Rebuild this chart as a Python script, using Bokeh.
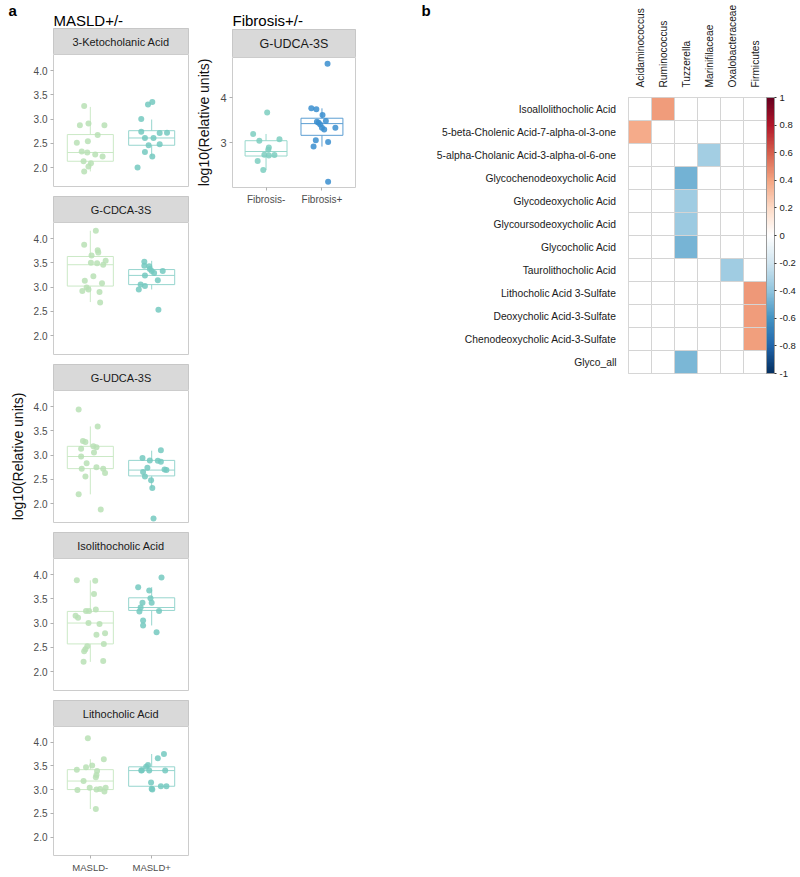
import math
from bokeh.plotting import figure
from bokeh.layouts import row, column
from bokeh.models import (Range1d, FixedTicker, PrintfTickFormatter, LinearColorMapper,
                          ColorBar, NumeralTickFormatter, ColumnDataSource)
from bokeh.embed import file_html
from bokeh.resources import INLINE
from bokeh.core.properties import value

FONT = "Liberation Sans"

# ---------------- data ----------------
masld_groups = ["MASLD-", "MASLD+"]
fib_groups = ["Fibrosis-", "Fibrosis+"]
masld_panels = ["3-Ketocholanic Acid", "G-CDCA-3S", "G-UDCA-3S",
                "Isolithocholic Acid", "Lithocholic Acid"]
masld_yticks = [2.0, 2.5, 3.0, 3.5, 4.0]
fib_panel = "G-UDCA-3S"
fib_yticks = [3, 4]
y_label = "log10(Relative units)"

# box stats: [q1, median, q3, lower whisker, upper whisker]
keto_neg = [3.27, 2.87, 2.91, 2.87, 2.67, 2.51, 2.54, 2.33, 2.31, 2.27, 2.23, 2.13, 2.09, 2.02, 1.92]
keto_neg_jit = [-0.10, -0.17, -0.03, 0.23, 0.12, -0.22, -0.04, -0.14, -0.05, 0.08, 0.20, -0.11, 0.01, -0.03, -0.10]
keto_neg_box = [2.13, 2.31, 2.68, 1.92, 3.25]
keto_pos = [3.30, 3.35, 3.00, 2.74, 2.71, 2.72, 2.61, 2.61, 2.46, 2.48, 2.32, 2.23, 2.00]
keto_pos_jit = [-0.06, 0.01, -0.17, -0.17, 0.13, 0.25, -0.11, 0.03, -0.05, 0.13, -0.11, 0.01, -0.23]
keto_pos_box = [2.46, 2.61, 2.76, 2.23, 2.99]

gcdca_neg = [4.16, 3.87, 3.76, 3.71, 3.65, 3.54, 3.50, 3.49, 3.46, 3.22, 3.13, 3.08, 2.99, 2.95, 2.92, 2.90, 2.68]
gcdca_neg_jit = [0.09, -0.10, 0.12, 0.13, 0.02, 0.25, 0.01, 0.11, 0.21, 0.05, -0.09, 0.19, -0.06, -0.03, -0.13, 0.15, 0.16]
gcdca_neg_box = [3.02, 3.46, 3.63, 2.69, 4.16]
gcdca_pos = [3.52, 3.44, 3.43, 3.37, 3.33, 3.33, 3.29, 3.24, 3.14, 3.05, 3.02, 2.95, 2.53]
gcdca_pos_jit = [-0.12, -0.12, -0.04, -0.03, 0.00, 0.18, 0.04, -0.11, 0.10, -0.18, -0.11, -0.21, 0.11]
gcdca_pos_box = [3.05, 3.24, 3.36, 2.95, 3.54]

gudca_neg = [3.94, 3.59, 3.29, 3.27, 3.18, 3.16, 3.13, 3.05, 2.97, 2.83, 2.75, 2.72, 2.72, 2.63, 2.56, 2.19, 1.88]
gudca_neg_jit = [-0.19, 0.12, -0.12, -0.08, 0.05, 0.10, -0.15, 0.06, -0.15, -0.06, 0.10, -0.14, 0.21, 0.24, -0.08, -0.19, 0.17]
gudca_neg_box = [2.72, 2.97, 3.18, 2.19, 3.59]
gudca_pos = [3.10, 2.94, 2.89, 2.88, 2.86, 2.74, 2.70, 2.69, 2.65, 2.56, 2.48, 2.32, 1.69]
gudca_pos_jit = [0.15, -0.15, -0.03, 0.10, 0.15, -0.07, 0.21, 0.24, -0.14, -0.11, -0.01, 0.01, 0.03]
gudca_pos_box = [2.57, 2.69, 2.89, 2.32, 3.09]

iso_neg = [3.88, 3.87, 3.60, 3.28, 3.25, 3.25, 3.15, 3.11, 3.00, 2.98, 2.79, 2.76, 2.57, 2.52, 2.46, 2.42, 2.20, 2.22]
iso_neg_jit = [-0.22, 0.08, 0.06, 0.09, -0.07, -0.02, -0.24, -0.20, -0.03, 0.15, 0.24, 0.10, 0.22, -0.05, -0.08, -0.10, -0.11, 0.21]
iso_neg_box = [2.57, 3.00, 3.24, 2.20, 3.88]
iso_pos = [3.94, 3.74, 3.67, 3.51, 3.42, 3.42, 3.32, 3.24, 3.25, 3.05, 2.95, 2.81]
iso_pos_jit = [0.16, -0.22, -0.04, -0.02, -0.15, 0.00, -0.18, -0.20, 0.12, -0.14, -0.14, 0.08]
iso_pos_box = [3.26, 3.32, 3.52, 2.95, 3.74]

litho_neg = [4.08, 3.64, 3.51, 3.47, 3.39, 3.42, 3.31, 3.26, 3.18, 3.04, 2.99, 3.00, 3.01, 3.04, 2.96, 2.59]
litho_neg_jit = [-0.04, 0.22, 0.03, -0.07, 0.11, -0.22, 0.10, 0.09, -0.11, -0.01, -0.21, 0.10, 0.16, 0.25, 0.23, 0.09]
litho_neg_box = [3.00, 3.18, 3.42, 2.59, 3.64]
litho_pos = [3.75, 3.66, 3.52, 3.48, 3.40, 3.40, 3.40, 3.41, 3.15, 3.07, 3.07, 3.00, 3.02]
litho_pos_jit = [0.20, 0.10, -0.06, -0.09, -0.17, -0.04, 0.22, -0.16, -0.01, 0.15, 0.24, 0.01, 0.00]
litho_pos_box = [3.07, 3.40, 3.48, 3.00, 3.75]

fib_neg = [3.67, 3.19, 3.04, 3.07, 2.89, 2.84, 2.73, 2.71, 2.72, 2.59, 2.39]
fib_neg_jit = [0.02, -0.23, -0.12, 0.24, 0.05, 0.04, -0.03, 0.05, 0.15, -0.15, -0.05]
fib_neg_box = [2.70, 2.80, 3.04, 2.39, 3.19]
fib_pos = [4.75, 3.76, 3.74, 3.61, 3.46, 3.48, 3.44, 3.40, 3.33, 3.29, 3.33, 3.05, 3.01, 2.91, 2.13]
fib_pos_jit = [0.10, -0.19, -0.10, 0.01, -0.09, 0.07, -0.06, -0.03, 0.00, 0.04, 0.24, -0.11, 0.11, -0.15, 0.11]
fib_pos_box = [3.16, 3.42, 3.54, 2.91, 3.76]

# heatmap
hm_rows = ["Isoallolithocholic Acid", "5-beta-Cholenic Acid-7-alpha-ol-3-one",
           "5-alpha-Cholanic Acid-3-alpha-ol-6-one", "Glycochenodeoxycholic Acid",
           "Glycodeoxycholic Acid", "Glycoursodeoxycholic Acid", "Glycocholic Acid",
           "Taurolithocholic Acid", "Lithocholic Acid 3-Sulfate", "Deoxycholic Acid-3-Sulfate",
           "Chenodeoxycholic Acid-3-Sulfate", "Glyco_all"]
hm_cols = ["Acidaminococcus", "Ruminococcus", "Tuzzerella", "Marinifilaceae",
           "Oxalobacteraceae", "Firmicutes"]
sig_rows = ["Isoallolithocholic Acid", "5-beta-Cholenic Acid-7-alpha-ol-3-one",
            "5-alpha-Cholanic Acid-3-alpha-ol-6-one", "Glycochenodeoxycholic Acid",
            "Glycodeoxycholic Acid", "Glycoursodeoxycholic Acid", "Glycocholic Acid",
            "Taurolithocholic Acid", "Lithocholic Acid 3-Sulfate", "Deoxycholic Acid-3-Sulfate",
            "Chenodeoxycholic Acid-3-Sulfate", "Glyco_all"]
sig_cols = ["Ruminococcus", "Acidaminococcus", "Marinifilaceae", "Tuzzerella",
            "Tuzzerella", "Tuzzerella", "Tuzzerella", "Oxalobacteraceae",
            "Firmicutes", "Firmicutes", "Firmicutes", "Tuzzerella"]
sig_r = [0.42, 0.37, -0.35, -0.48, -0.36, -0.37, -0.47, -0.36, 0.43, 0.42, 0.41, -0.46]
cbar_ticks = [-1.0, -0.8, -0.6, -0.4, -0.2, 0.0, 0.2, 0.4, 0.6, 0.8, 1.0]

# ---------------- styles ----------------
MASLD_PT = ["#b8e0b5", "#74c9c0"]
MASLD_BOX = ["#cbe9c6", "#96d5ce"]
FIB_PT = ["#7dcebf", "#3a8ecf"]
FIB_BOX = ["#98d8cc", "#5c9ed2"]
RDBU = ["#053061", "#2166AC", "#4393C3", "#92C5DE", "#D1E5F0", "#FFFFFF",
        "#FDDBC7", "#F4A582", "#D6604D", "#B2182B", "#67001F"]


def interp(pal, n):
    rgb = [tuple(int(h[i:i + 2], 16) for i in (1, 3, 5)) for h in pal]
    out = []
    for k in range(n):
        t = k / (n - 1) * (len(rgb) - 1)
        i = min(int(t), len(rgb) - 2)
        f = t - i
        c = [round(rgb[i][j] + (rgb[i + 1][j] - rgb[i][j]) * f) for j in range(3)]
        out.append("#%02x%02x%02x" % tuple(c))
    return out


def strip_fig(title, width, height, mbl, mbr, mbt=0, size="11px"):
    s = figure(width=width, height=height, x_range=Range1d(0, 1), y_range=Range1d(0, 1),
               x_axis_type=None, y_axis_type=None, toolbar_location=None, output_backend="svg",
               min_border_left=mbl, min_border_right=mbr, min_border_top=mbt, min_border_bottom=0)
    s.outline_line_color = "#c4c4c4"
    s.grid.visible = False
    s.quad(left=[0], right=[1], bottom=[0], top=[1], fill_color="#d9d9d9", line_color="#c4c4c4")
    s.text(x=[0.5], y=[0.5], text=[title], text_align="center", text_baseline="middle",
           text_font=value(FONT), text_font_size=size, text_color="#1a1a1a")
    return s


def box_fig(groups, vals, jits, boxes, pt_cols, box_cols, yr, yticks, fmt, width, height,
            mbl, mbr, mbb, show_x, ylab=None, tick_size="10px", xtick_size="9.5px"):
    p = figure(width=width, height=height, x_range=Range1d(0.4, 2.6), y_range=Range1d(*yr),
               toolbar_location=None, output_backend="svg",
               min_border_left=mbl, min_border_right=mbr, min_border_top=0, min_border_bottom=mbb)
    p.grid.visible = False
    p.outline_line_color = "#cccccc"
    hw = 0.375
    for i in range(2):
        c = i + 1
        q1, med, q3, lo, hi = boxes[i]
        p.quad(left=[c - hw], right=[c + hw], bottom=[q1], top=[q3], fill_color=None,
               line_color=box_cols[i], line_width=1)
        p.segment(x0=[c - hw], x1=[c + hw], y0=[med], y1=[med], line_color=box_cols[i], line_width=1)
        p.segment(x0=[c, c], x1=[c, c], y0=[q3, q1], y1=[hi, lo], line_color=box_cols[i], line_width=1)
    for i in range(2):
        c = i + 1
        p.scatter(x=[c + j for j in jits[i]], y=vals[i], size=6, fill_color=pt_cols[i],
                  fill_alpha=0.85, line_color=None)
    p.yaxis.ticker = FixedTicker(ticks=yticks)
    if fmt:
        p.yaxis.formatter = PrintfTickFormatter(format=fmt)
    p.xaxis.ticker = FixedTicker(ticks=[1, 2])
    p.xaxis.major_label_overrides = {1: groups[0], 2: groups[1]}
    p.axis.axis_line_color = None
    p.axis.minor_tick_line_color = None
    p.axis.major_tick_line_color = "#b0b0b0"
    p.axis.major_tick_in = 0
    p.axis.major_tick_out = 3
    p.axis.major_label_standoff = 3
    p.axis.major_label_text_color = "#4d4d4d"
    p.axis.major_label_text_font = FONT
    p.yaxis.major_label_text_font_size = tick_size
    p.xaxis.major_label_text_font_size = xtick_size
    if not show_x:
        p.xaxis.visible = False
    if ylab:
        p.yaxis.axis_label = ylab
        p.yaxis.axis_label_text_font = FONT
        p.yaxis.axis_label_text_font_style = "normal"
        p.yaxis.axis_label_text_font_size = "14px"
        p.yaxis.axis_label_text_color = "#111111"
        p.yaxis.axis_label_standoff = 5
    return p


# ---------------- header (panel letters and group titles) ----------------
HW = 432
hdr = figure(width=HW, height=28, x_range=Range1d(0, HW), y_range=Range1d(0, 28),
             x_axis_type=None, y_axis_type=None, toolbar_location=None, output_backend="svg",
             min_border=0, min_border_left=0, min_border_right=0, min_border_top=0, min_border_bottom=0)
hdr.outline_line_color = None
hdr.grid.visible = False
hdr.text(x=[8, 421], y=[18, 18], text=["a", "b"], text_font=value(FONT), text_font_style="bold",
         text_font_size="15px", text_baseline="middle", text_color="#000000")
hdr.text(x=[53, 232], y=[8, 8], text=["MASLD+/-", "Fibrosis+/-"], text_font=value(FONT),
         text_font_size="15px", text_baseline="middle", text_color="#000000")

# ---------------- left column ----------------
masld_data = [
    (keto_neg, keto_neg_jit, keto_neg_box, keto_pos, keto_pos_jit, keto_pos_box),
    (gcdca_neg, gcdca_neg_jit, gcdca_neg_box, gcdca_pos, gcdca_pos_jit, gcdca_pos_box),
    (gudca_neg, gudca_neg_jit, gudca_neg_box, gudca_pos, gudca_pos_jit, gudca_pos_box),
    (iso_neg, iso_neg_jit, iso_neg_box, iso_pos, iso_pos_jit, iso_pos_box),
    (litho_neg, litho_neg_jit, litho_neg_box, litho_pos, litho_pos_jit, litho_pos_box),
]
left_figs = []
for k, (title, d) in enumerate(zip(masld_panels, masld_data)):
    last = k == len(masld_panels) - 1
    left_figs.append(strip_fig(title, 193, 26, 53, 5))
    left_figs.append(box_fig(masld_groups, [d[0], d[3]], [d[1], d[4]], [d[2], d[5]],
                             MASLD_PT, MASLD_BOX, (1.61, 4.33), masld_yticks, "%.1f",
                             193, 149 if last else 142, 53, 5, 17 if last else 10, last,
                             ylab=y_label if k == 2 else None))
leftcol = column(*left_figs)

# ---------------- fibrosis ----------------
fib_strip = strip_fig(fib_panel, 169, 29, 39, 7, mbt=1, size="12.5px")
fib_plot = box_fig(fib_groups, [fib_neg, fib_pos], [fib_neg_jit, fib_pos_jit],
                   [fib_neg_box, fib_pos_box], FIB_PT, FIB_BOX, (2.0, 4.89), fib_yticks, None,
                   169, 150, 39, 7, 20, True, ylab=y_label, tick_size="11px", xtick_size="10px")
fibcol = column(fib_strip, fib_plot)

# ---------------- heatmap ----------------
mapper = LinearColorMapper(palette=interp(RDBU, 200), low=-1, high=1)
hm = figure(width=366, height=378, x_range=hm_cols, y_range=list(reversed(hm_rows)),
            x_axis_location="above", toolbar_location=None, output_backend="svg",
            min_border_left=196, min_border_right=0, min_border_top=97, min_border_bottom=5)
hm.grid.visible = False
hm.outline_line_color = "#cccccc"
all_x = [c for r in hm_rows for c in hm_cols]
all_y = [r for r in hm_rows for c in hm_cols]
hm.rect(x=all_x, y=all_y, width=1, height=1, fill_color="white", line_color="#d4d4d4", line_width=1)
src = ColumnDataSource(dict(x=sig_cols, y=sig_rows, r=sig_r))
hm.rect(x="x", y="y", width=1, height=1, source=src,
        fill_color={"field": "r", "transform": mapper}, line_color="#d4d4d4", line_width=1)
hm.axis.axis_line_color = None
hm.axis.major_tick_line_color = None
hm.axis.minor_tick_line_color = None
hm.axis.major_label_text_font = FONT
hm.axis.major_label_text_color = "#1a1a1a"
hm.yaxis.major_label_text_font_size = "10.3px"
hm.xaxis.major_label_text_font_size = "10.2px"
hm.yaxis.major_label_standoff = 6
hm.xaxis.major_label_standoff = 4
hm.xaxis.major_label_orientation = math.pi / 2

cb = ColorBar(color_mapper=mapper, ticker=FixedTicker(ticks=cbar_ticks),
              formatter=NumeralTickFormatter(format="0.[0]"), width=8, height=276,
              padding=0, margin=0, label_standoff=3, major_tick_in=0, major_tick_out=2,
              major_tick_line_color="#333333", bar_line_color="#999999",
              major_label_text_font=FONT, major_label_text_font_size="9.5px",
              major_label_text_color="#1a1a1a", border_line_color=None,
              background_fill_color=None)
hm.add_layout(cb, "right")

layout = row(column(hdr, row(leftcol, fibcol)), hm)
open("out.html", "w").write(file_html(layout, INLINE))
